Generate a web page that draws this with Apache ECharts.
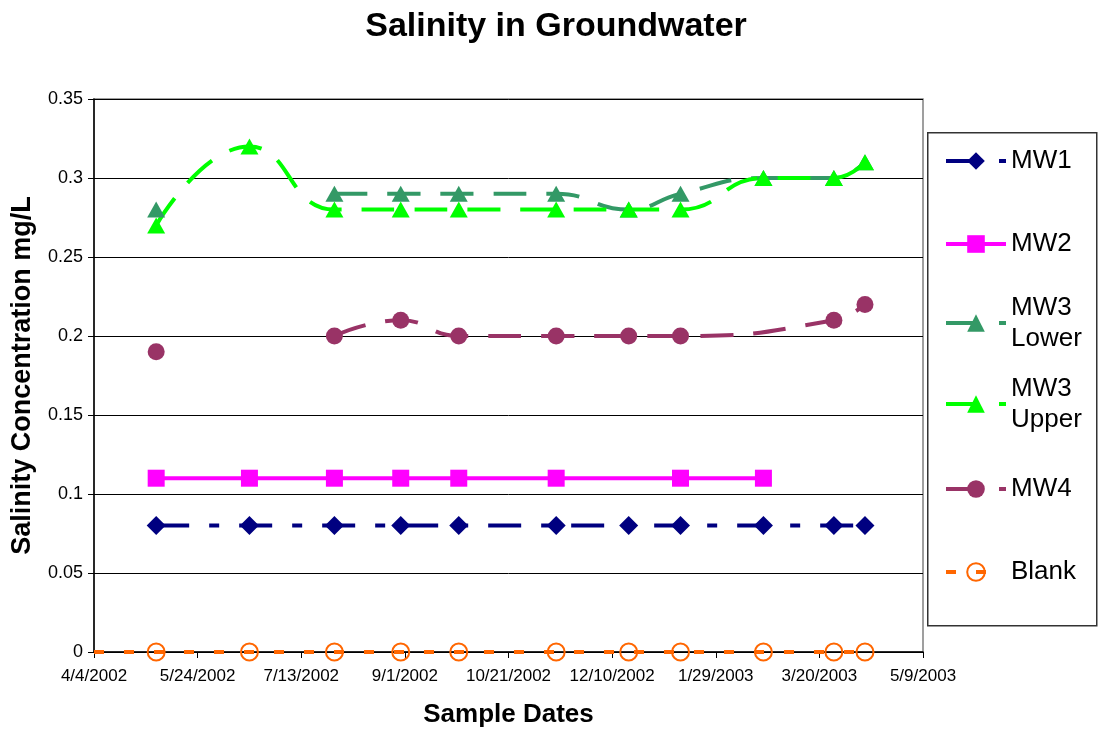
<!DOCTYPE html>
<html>
<head>
<meta charset="utf-8">
<title>Salinity in Groundwater</title>
<script src="https://cdn.jsdelivr.net/npm/echarts@6/dist/echarts.min.js"></script>
<style>
  html, body { margin: 0; padding: 0; background: #fff; }
  #chart { width: 1102px; height: 740px; }
</style>
</head>
<body>
<div id="chart"></div>
<script>
// sample dates, M/D/YYYY
const sampleDates = [
  "5/4/2002", "6/18/2002", "7/29/2002", "8/30/2002", "9/27/2002", "11/13/2002",
  "12/18/2002", "1/12/2003", "2/21/2003", "3/27/2003", "4/11/2003",
];
const axisStart = "4/4/2002";
const axisEnd = "5/9/2003";
const tickDays = 50;

// null = no sample (line joins over it), "-" = no sample (line is broken)
const mw1 = [0.08, 0.08, 0.08, 0.08, 0.08, 0.08, 0.08, 0.08, 0.08, 0.08, 0.08];
const mw2 = [0.11, 0.11, 0.11, 0.11, 0.11, 0.11, null, 0.11, 0.11, null, null];
const mw3Lower = [0.28, "-", 0.29, 0.29, 0.29, 0.29, 0.28, 0.29, 0.3, 0.3, 0.31];
const mw3Upper = [0.27, 0.32, 0.28, 0.28, 0.28, 0.28, 0.28, 0.28, 0.3, 0.3, 0.31];
const mw4 = [0.19, "-", 0.2, 0.21, 0.2, 0.2, 0.2, 0.2, null, 0.21, 0.22];
const blank = [0, 0, 0, 0, 0, 0, 0, 0, 0, 0, 0];
// blank line runs in from the left edge of the plot
const blankLead = [axisStart, 0];

const FONT = "'Liberation Sans', Arial, sans-serif";

function toUTC(s) {
  const p = s.split("/").map(Number);
  return Date.UTC(p[2], p[0] - 1, p[1]);
}
const t0 = toUTC(axisStart);
function toDays(s) {
  return Math.round((toUTC(s) - t0) / 86400000);
}
function fmtDay(v) {
  const d = new Date(t0 + v * 86400000);
  return d.getUTCMonth() + 1 + "/" + d.getUTCDate() + "/" + d.getUTCFullYear();
}
function pairs(values) {
  return sampleDates
    .map((d, i) => [toDays(d), values[i]])
    .filter((p) => p[1] !== null);
}

function lineSeries(name, values, color, symbol, size, dash, smooth) {
  return {
    name: name,
    type: "line",
    data: pairs(values),
    smooth: smooth ? 0.5 : false,
    connectNulls: false,
    symbol: symbol,
    symbolSize: size,
    showAllSymbol: true,
    lineStyle: { color: color, width: 4, type: dash, cap: "butt" },
    itemStyle: { color: color },
    emphasis: { disabled: true },
  };
}

const blankSeries = lineSeries("Blank", blank, "#FF6600", "circle", 17, [10, 20], false);
blankSeries.itemStyle = { color: "transparent", borderColor: "#FF6600", borderWidth: 2 };
blankSeries.data = [{ value: [toDays(blankLead[0]), blankLead[1]], symbol: "none" }].concat(blankSeries.data);

const series = [
  lineSeries("MW1", mw1, "#000080", "diamond", [19, 19], [33, 20, 10, 20], false),
  lineSeries("MW2", mw2, "#FF00FF", "rect", 17, "solid", false),
  lineSeries("MW3 Lower", mw3Lower, "#339966", "triangle", [18, 16], [33, 20], true),
  lineSeries("MW3 Upper", mw3Upper, "#00FF00", "triangle", [18, 16], [33, 20], true),
  lineSeries("MW4", mw4, "#993366", "circle", 17, [33, 20], true),
  blankSeries,
];
series[1].connectNulls = true;

// one legend per entry so each row sits where it should
const IH = 22;
function legendItem(name, centerY, twoLine) {
  const textStyle = twoLine
    ? { fontSize: 26, fontFamily: FONT, color: "#000", lineHeight: 31, padding: [31, 0, 0, 0] }
    : { fontSize: 26, fontFamily: FONT, color: "#000", lineHeight: IH };
  return {
    left: 944,
    top: twoLine ? centerY - 46.5 : centerY - IH / 2,
    padding: 0,
    itemWidth: 60,
    itemHeight: IH,
    data: [name],
    lineStyle: { width: 4 },
    formatter: (n) => (twoLine ? n.replace(" ", "\n") : n),
    textStyle: textStyle,
  };
}

const chart = echarts.init(document.getElementById("chart"));
const option = {
  animation: false,
  backgroundColor: "#fff",
  title: {
    text: "Salinity in Groundwater",
    left: 551,
    textAlign: "center",
    top: 5,
    textStyle: { fontFamily: FONT, fontSize: 34, fontWeight: "bold", color: "#000" },
  },
  legend: [
    legendItem("MW1", 159, false),
    legendItem("MW2", 242, false),
    legendItem("MW3 Lower", 323, true),
    legendItem("MW3 Upper", 404, true),
    legendItem("MW4", 487, false),
    legendItem("Blank", 570, false),
  ],
  graphic: [
    {
      type: "rect",
      left: 927,
      top: 132,
      z: -1,
      shape: { width: 169, height: 493 },
      style: { fill: "#fff", stroke: "#333", lineWidth: 1.5 },
    },
  ],
  grid: {
    left: 94,
    right: 179,
    top: 99,
    bottom: 88,
    show: true,
    borderColor: "#808080",
    borderWidth: 1.5,
  },
  xAxis: {
    type: "value",
    min: 0,
    max: toDays(axisEnd),
    interval: tickDays,
    name: "Sample Dates",
    nameLocation: "middle",
    nameGap: 50,
    nameTextStyle: { fontFamily: FONT, fontSize: 26, fontWeight: "bold", color: "#000" },
    axisLine: { lineStyle: { color: "#000", width: 1.5 } },
    axisTick: { show: true, length: 6, lineStyle: { color: "#000" } },
    axisLabel: {
      formatter: fmtDay,
      fontFamily: FONT,
      fontSize: 17,
      color: "#000",
      margin: 16,
      showMinLabel: true,
      showMaxLabel: true,
    },
    splitLine: { show: false },
  },
  yAxis: {
    type: "value",
    min: 0,
    max: 0.35,
    interval: 0.05,
    name: "Salinity Concentration mg/L",
    nameLocation: "middle",
    nameRotate: 90,
    nameGap: 58,
    nameTextStyle: { fontFamily: FONT, fontSize: 27, fontWeight: "bold", color: "#000" },
    axisLine: { show: true, lineStyle: { color: "#000", width: 1.5 } },
    axisTick: { show: true, length: 6, lineStyle: { color: "#000" } },
    axisLabel: { fontFamily: FONT, fontSize: 18, color: "#000", margin: 11 },
    splitLine: { lineStyle: { color: "#000", width: 1 } },
  },
  series: series,
};
chart.setOption(option);
</script>
</body>
</html>
